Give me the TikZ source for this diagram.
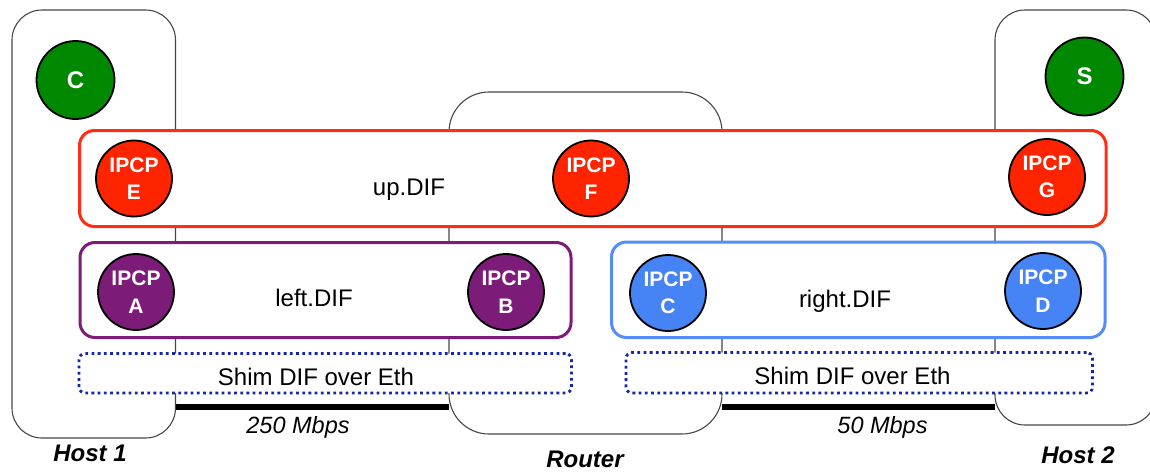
\documentclass[tikz,border=0pt]{standalone}
\usepackage{fontspec}
\setmainfont{Liberation Sans}
\definecolor{dgreen}{RGB}{0,136,0}
\definecolor{ipred}{RGB}{255,36,0}
\definecolor{boxred}{RGB}{255,45,20}
\definecolor{ipurple}{RGB}{125,28,120}
\definecolor{iblue}{RGB}{70,132,245}
\definecolor{boxblue}{RGB}{85,140,250}
\definecolor{shimblue}{RGB}{20,40,165}
\definecolor{hostgray}{RGB}{70,70,70}
\begin{document}
\begin{tikzpicture}[x=1pt,y=-1pt,
  hostbox/.style={draw=hostgray, line width=1.1pt, fill=white, rounded corners=#1, inner sep=0pt, outer sep=0pt},
  difbox/.style={draw=#1, line width=3pt, fill=white, rounded corners=15pt, inner sep=0pt, outer sep=0pt},
  shimbox/.style={draw=shimblue, line width=2.8pt, dash pattern=on 2.8pt off 3.4pt, fill=white, rounded corners=6pt, inner sep=0pt, outer sep=0pt},
  ipcp/.style={circle, draw=black, line width=1.8pt, fill=#1, minimum size=76pt, inner sep=0pt, text=white, align=center, font=\fontsize{21}{27.5}\selectfont\bfseries},
  appnode/.style={circle, draw=black, line width=1.8pt, fill=dgreen, minimum size=78pt, inner sep=0pt, text=white, font=\fontsize{24}{28}\selectfont\bfseries},
  linkline/.style={line width=6pt, black},
  lbl/.style={anchor=base, inner sep=0pt, font=\fontsize{24}{28}\selectfont},
  speed/.style={anchor=base, inner sep=0pt, font=\fontsize{23.5}{28}\selectfont\itshape},
  hostlbl/.style={anchor=base, inner sep=0pt, font=\fontsize{24}{28}\selectfont\bfseries\itshape}
]
\useasboundingbox (0,0) rectangle (1150,472);
\clip (0,0) rectangle (1150,472);

% hosts and router
\node[hostbox=30pt, minimum width=163.5pt, minimum height=428pt] (host1) at (93.75,224) {};
\node[hostbox=40pt, minimum width=273pt, minimum height=342pt] (router) at (585.5,263) {};
\node[hostbox=30pt, minimum width=161pt, minimum height=415pt] (host2) at (1075.5,217.5) {};

% physical links
\coordinate (ly) at (0,406.5);
\draw[linkline] (host1.east |- ly) -- (router.west |- ly);
\draw[linkline] (router.east |- ly) -- (host2.west |- ly);

% DIFs
\node[difbox=boxred, minimum width=1026.5pt, minimum height=96pt] (up) at (592.75,178.5) {};
\node[difbox=ipurple, minimum width=491pt, minimum height=95pt] (left) at (325.5,290) {};
\node[difbox=boxblue, minimum width=493.5pt, minimum height=95.5pt] (right) at (858.25,289.75) {};
\node[shimbox, minimum width=492.5pt, minimum height=39.5pt] (shimL) at (325.25,373.25) {};
\node[shimbox, minimum width=466.5pt, minimum height=40.5pt] (shimR) at (859.25,372.75) {};

% applications
\node[appnode] (appC) at (75.5,80) {C};
\node[appnode] (appS) at (1084.5,76.5) {S};

% IPCPs
\node[ipcp=ipred] (E) at (134,178.5) {IPCP\\E};
\node[ipcp=ipred] (F) at (591,178.5) {IPCP\\F};
\node[ipcp=ipred] (G) at (1047,177) {IPCP\\G};
\node[ipcp=ipurple] (A) at (136,292) {IPCP\\A};
\node[ipcp=ipurple] (B) at (506,292) {IPCP\\B};
\node[ipcp=iblue] (C) at (668,293) {IPCP\\C};
\node[ipcp=iblue] (D) at (1043,291) {IPCP\\D};

% labels
\node[lbl] (uplbl) at (409,195) {up.DIF};
\node[lbl] (leftlbl) at (314,306.7) {left.DIF};
\node[lbl] (rightlbl) at (845,307) {right.DIF};
\node[lbl] (shimLlbl) at (316,385) {Shim DIF over Eth};
\node[lbl] (shimRlbl) at (852.5,384.5) {Shim DIF over Eth};
\node[speed] (sp1) at (298,433.5) {250 Mbps};
\node[speed] (sp2) at (882.5,433.5) {50 Mbps};
\node[hostlbl] (h1lbl) at (90,461.7) {Host 1};
\node[hostlbl] (rlbl) at (585,467) {Router};
\node[hostlbl] (h2lbl) at (1078,463) {Host 2};
\end{tikzpicture}
\end{document}
